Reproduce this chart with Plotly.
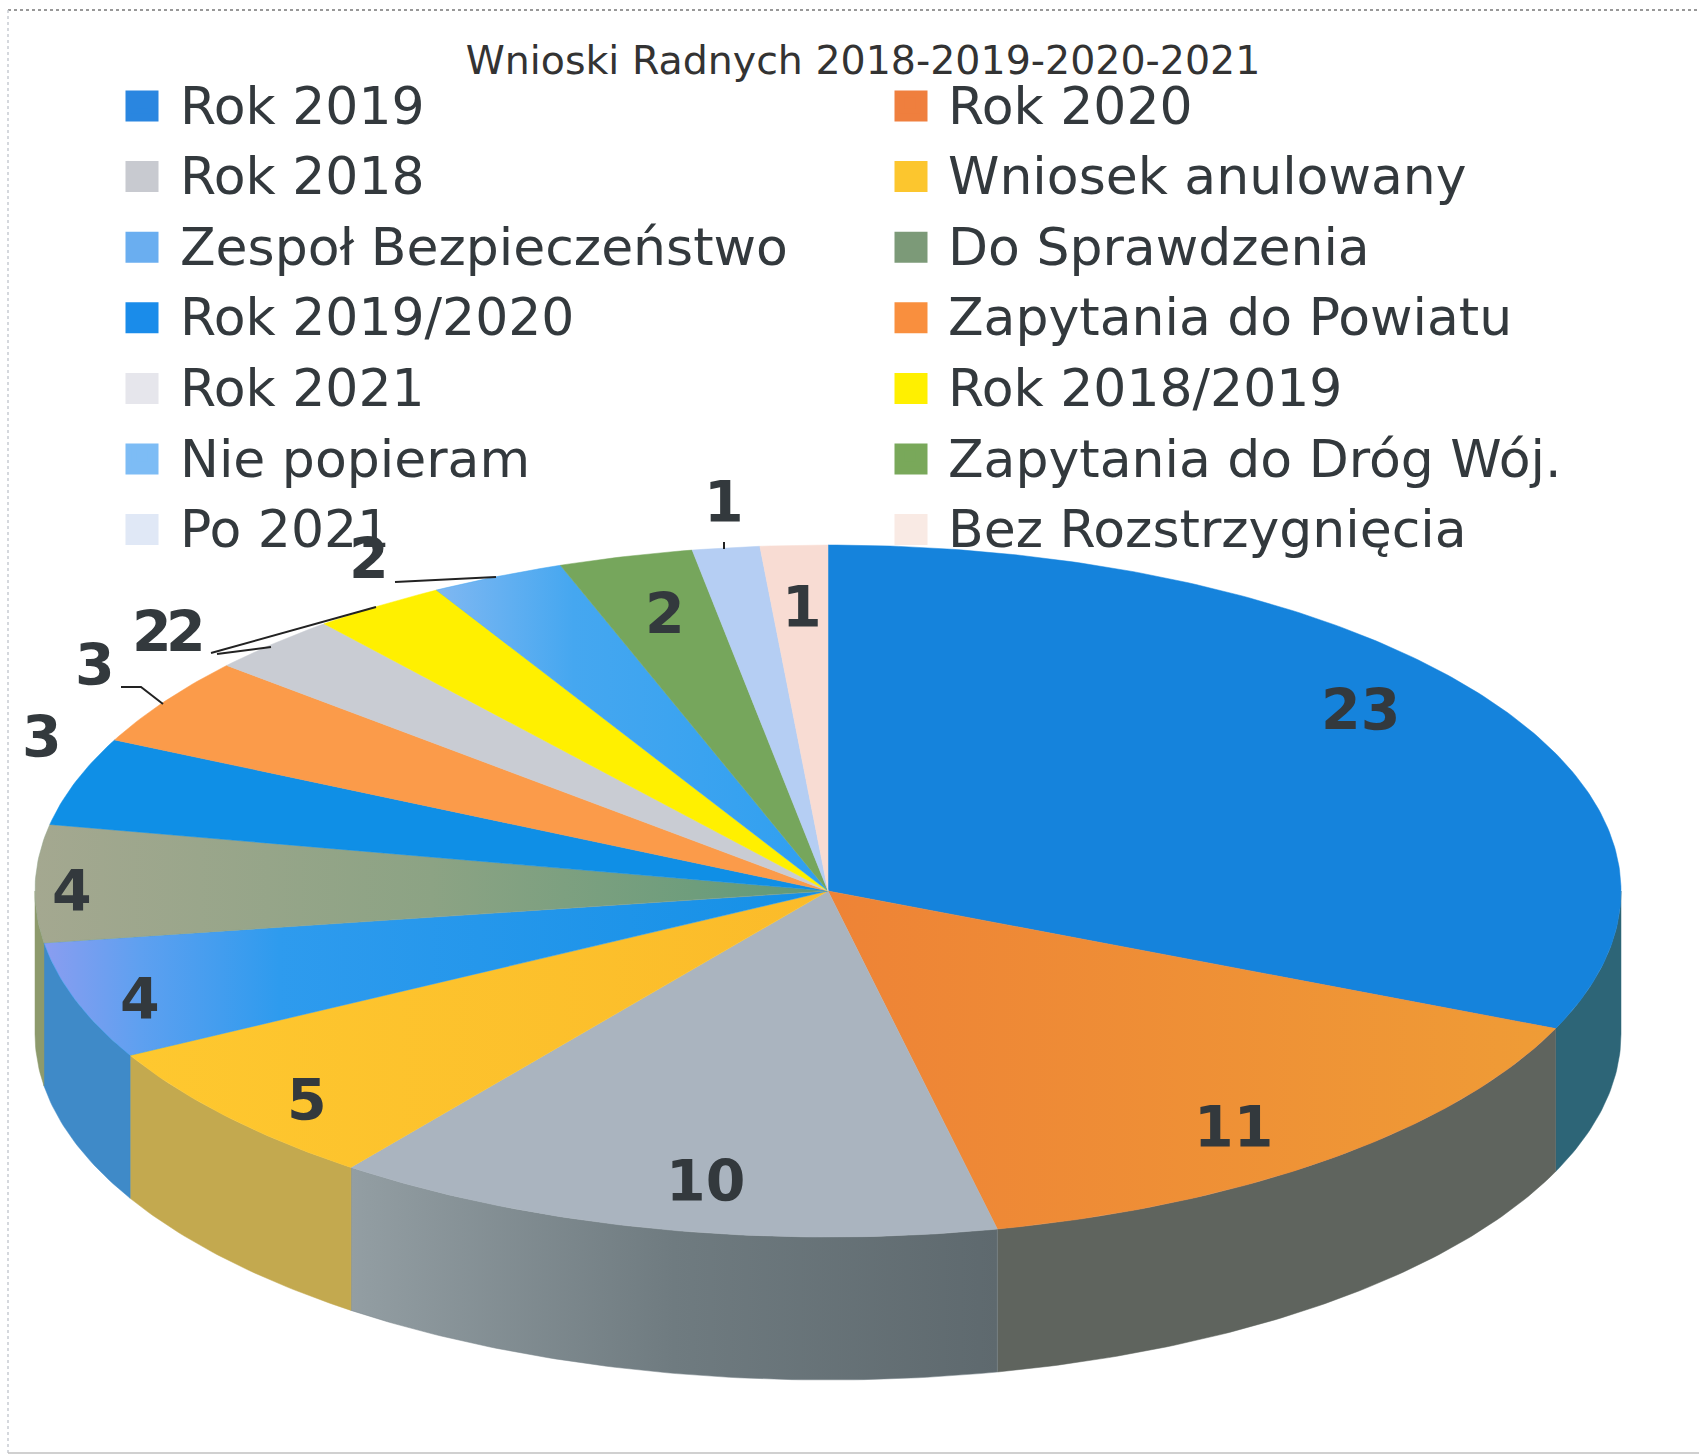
import numpy as np
import plotly.graph_objects as go

TITLE = "Wnioski Radnych 2018-2019-2020-2021"
categories = ["Rok 2019", "Rok 2020", "Rok 2018", "Wniosek anulowany", "Zespoł Bezpieczeństwo",
              "Do Sprawdzenia", "Rok 2019/2020", "Zapytania do Powiatu", "Rok 2021", "Rok 2018/2019",
              "Nie popieram", "Zapytania do Dróg Wój.", "Po 2021", "Bez Rozstrzygnięcia"]
values = [23, 11, 10, 5, 4, 4, 3, 3, 2, 2, 2, 2, 1, 1]

top_colors = ["#1583dc", "#f08a38", "#aab4bf", "#fcc62e", "#2e9bee", "#8ea386", "#0f8fe6",
              "#fb9b4a", "#c9ccd3", "#fff000", "#45a7f0", "#76a65c", "#b5cef3", "#f8dcd3"]
side_colors = ["#2d6577", "#5f645e", "#78848a", "#c3a94f", "#3f8ac8", "#8d9a6c", "#0f8fe6",
               "#fb9b4a", "#c9ccd3", "#fff000", "#45a7f0", "#76a65c", "#b5cef3", "#f8dcd3"]
legend_colors = ["#2a86e0", "#ef7f3e", "#c8cad0", "#fcc62e", "#6aaef0", "#7c9a78", "#1a8cea",
                 "#f98f3e", "#e6e6ec", "#fff000", "#7dbcf5", "#79a85a", "#e0e8f6", "#f9eae4"]

top_gradients = {
    "Zespoł Bezpieczeństwo": [[0, "#8a9df0"], [0.12, "#5fa0f0"], [0.3, "#2e9bee"], [1, "#1590e6"]],
    "Do Sprawdzenia": [[0, "#a4a890"], [0.5, "#8ca384"], [1, "#5f9a78"]],
    "Rok 2020": [[0, "#ee8336"], [1, "#ef9c36"]],
    "Wniosek anulowany": [[0, "#fec82f"], [1, "#fbbb2a"]],
    "Nie popieram": [[0, "#80b8f2"], [0.35, "#45a7f0"], [1, "#2f9ff0"]],
}
side_gradients = {"Rok 2018": [[0, "#939ea3"], [0.5, "#6f7b80"], [1, "#5e696e"]]}

# Pixel-based layout of the tilted pie
CX, CY, RX, RY, DEPTH = 828, 891, 793, 346, 143
W, H = 1699, 1455
INK = "#33393d"
FONT = "DejaVu Sans"

label_xy = [(1360, 710), (1233, 1127), (705, 1181), (307, 1100), (140, 999), (72, 891), (42, 737),
            (95, 665), (152, 632), (369, 559), (186, 632), (665, 614), (724, 502), (802, 607)]
leaders = [[(395, 582), (496, 577)], [(211, 653), (376, 607)], [(217, 654), (271, 647)],
           [(121, 687), (141, 687), (163, 704)], [(724, 542), (724, 549)]]

total = sum(values)
edges = np.cumsum([0] + values) / total * 2 * np.pi


def arc(a, b):
    n = max(3, int(abs(b - a) * 90))
    t = np.linspace(a, b, n)
    return CX + RX * np.sin(t), CY - RY * np.cos(t)


fig = go.Figure()

# Side wall: only the part of each slice facing the viewer
for i, name in enumerate(categories):
    a, b = max(edges[i], np.pi / 2), min(edges[i + 1], 3 * np.pi / 2)
    if b <= a:
        continue
    x, y = arc(a, b)
    kw = {"fillgradient": dict(type="horizontal", colorscale=side_gradients[name])} if name in side_gradients else {}
    fig.add_trace(go.Scatter(
        x=np.r_[x, x[::-1], x[0]], y=np.r_[y, y[::-1] + DEPTH, y[0]], mode="lines", fill="toself",
        fillcolor=side_colors[i], line=dict(width=0.5, color=side_colors[i]),
        showlegend=False, hoverinfo="skip", **kw))

# Top face
for i, name in enumerate(categories):
    x, y = arc(edges[i], edges[i + 1])
    kw = {"fillgradient": dict(type="horizontal", colorscale=top_gradients[name])} if name in top_gradients else {}
    fig.add_trace(go.Scatter(
        x=np.r_[CX, x, CX], y=np.r_[CY, y, CY], mode="lines", fill="toself",
        fillcolor=top_colors[i], line=dict(width=0.5, color=top_colors[i]),
        name=name, showlegend=False, hovertemplate=f"{name}: {values[i]}<extra></extra>", **kw))

# Legend entries
for name, c in zip(categories, legend_colors):
    fig.add_trace(go.Scatter(x=[None], y=[None], mode="markers", name=name,
                             marker=dict(symbol="square", size=16, color=c, line=dict(width=5, color=c))))

for (lx, ly), v in zip(label_xy, values):
    fig.add_annotation(x=lx, y=ly, text=str(v), showarrow=False,
                       font=dict(family=FONT, size=57, color=INK, weight="bold"))

shapes = []
for pts in leaders:
    path = "M" + " L".join(f"{px},{py}" for px, py in pts)
    shapes.append(dict(type="path", path=path, line=dict(color="#222222", width=2), xref="x", yref="y"))
# Scan edges of the sheet
shapes += [
    dict(type="line", x0=8, x1=W, y0=10, y1=10, line=dict(color="#777777", width=1.5, dash="dot"), xref="x", yref="y"),
    dict(type="line", x0=8, x1=8, y0=10, y1=H, line=dict(color="#c8ccd2", width=1.5, dash="dot"), xref="x", yref="y"),
    dict(type="line", x0=8, x1=W, y0=1453, y1=1453, line=dict(color="#c0c0c0", width=1.5), xref="x", yref="y"),
]
# Legend swatches in the reference are larger than the native legend marker allows
for i, c in enumerate(legend_colors):
    col, row = i % 2, i // 2
    sx, sy = 142 + 769 * col, 106 + 70.6 * row
    shapes.append(dict(type="rect", x0=sx - 16.5, x1=sx + 16.5, y0=sy - 15.5, y1=sy + 15.5,
                       fillcolor=c, line=dict(width=0), xref="x", yref="y", layer="above"))

fig.update_layout(
    width=W, height=H, autosize=False, margin=dict(l=0, r=0, t=0, b=0),
    paper_bgcolor="white", plot_bgcolor="white", shapes=shapes,
    title=dict(text=TITLE, x=863 / W, y=1 - 60 / H, xanchor="center", yanchor="middle",
               font=dict(family=FONT, size=39.5, color="#333333")),
    xaxis=dict(range=[0, W], visible=False, fixedrange=True),
    yaxis=dict(range=[H, 0], visible=False, fixedrange=True),
    legend=dict(orientation="h", x=104 / W, y=1 - 63 / H, xanchor="left", yanchor="top",
                entrywidth=687, entrywidthmode="pixels", itemwidth=66, traceorder="normal",
                font=dict(family=FONT, size=52, color="#33393d"), bgcolor="rgba(0,0,0,0)",
                itemclick=False, itemdoubleclick=False),
)

fig.write_html("out.html", post_script="document.body.style.margin='0';",
               config={"displayModeBar": False})
